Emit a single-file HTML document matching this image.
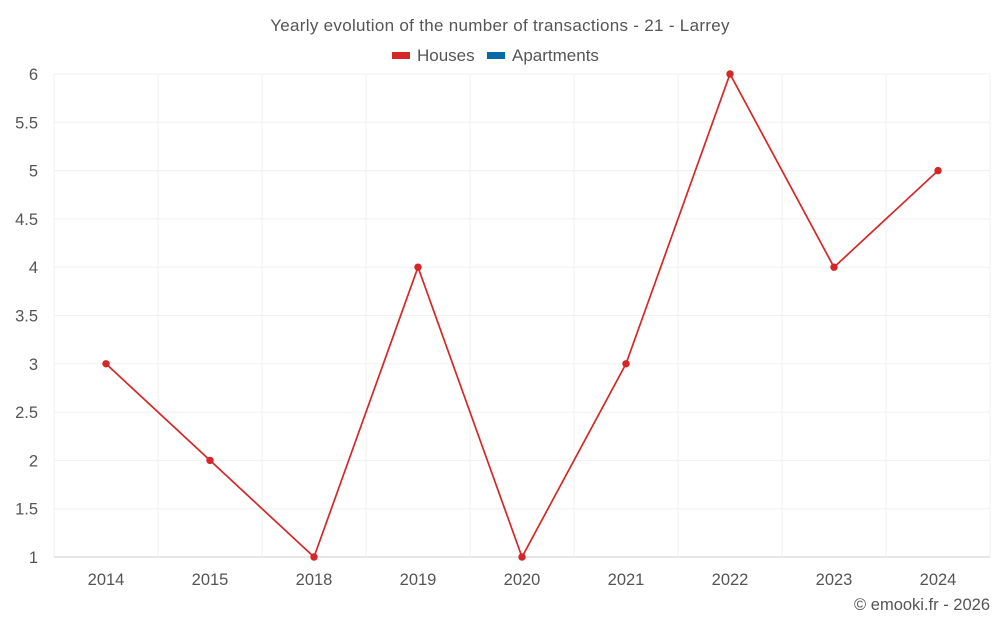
<!DOCTYPE html>
<html><head><meta charset="utf-8"><style>
body{margin:0;background:#fff;font-family:"Liberation Sans",sans-serif;}
svg text{font-family:"Liberation Sans",sans-serif;fill:#555;}
</style></head><body>
<svg id="c" width="1000" height="625">
<text x="500" y="31" text-anchor="middle" font-size="17" letter-spacing="0.3">Yearly evolution of the number of transactions - 21 - Larrey</text>
<g>
<g><rect x="392" y="52" width="18" height="7" fill="#d62728"/><text x="417" y="61" font-size="17">Houses</text></g>
<g><rect x="487" y="52" width="18" height="7" fill="#0868a8"/><text x="512" y="61" font-size="17">Apartments</text></g>
</g>
<g id="grid"></g><g id="axes"></g><g id="series"></g>
<text x="990" y="610" text-anchor="end" font-size="16.5">© emooki.fr - 2026</text>
</svg>
<script>
const categories=["2014","2015","2018","2019","2020","2021","2022","2023","2024"];
const houses=[3,2,1,4,1,3,6,4,5];
const yTicks=[1,1.5,2,2.5,3,3.5,4,4.5,5,5.5,6];
const ns="http://www.w3.org/2000/svg";
const L=54,R=990,T=74,B=557,yMin=1,yMax=6;
const bw=(R-L)/categories.length;
const xs=i=>L+bw*(i+0.5);
const ys=v=>B-(v-yMin)/(yMax-yMin)*(B-T);
function mk(t,a,p){const e=document.createElementNS(ns,t);for(const k in a)e.setAttribute(k,a[k]);p.appendChild(e);return e;}
const g=document.getElementById('grid'),ax=document.getElementById('axes'),s=document.getElementById('series');
yTicks.forEach(v=>{
 const l=mk('line',{x1:L,x2:R,y1:ys(v),y2:ys(v),stroke:v===yMin?'#ccc':'#f0f0f0'},g);
 
 
 const t=mk('text',{x:38,y:ys(v)+6,'text-anchor':'end','font-size':16.5},ax);
 t.textContent=String(v);
 
 
});
for(let i=0;i<=categories.length;i++){
 const l=mk('line',{x1:L+bw*i,x2:L+bw*i,y1:T,y2:B,stroke:'#f0f0f0'},g);
 
 
}
categories.forEach((c,i)=>{
 const t=mk('text',{x:xs(i),y:585,'text-anchor':'middle','font-size':16.5},ax);
 t.textContent=c;
 
 
});
const p=mk('polyline',{points:houses.map((v,i)=>xs(i)+','+ys(v)).join(' '),fill:'none',stroke:'#d62728','stroke-width':1.7},s);


houses.forEach((v,i)=>{
 const c=mk('circle',{cx:xs(i),cy:ys(v),r:3.7,fill:'#d62728'},s);
 
 
});
</script>
</body></html>
